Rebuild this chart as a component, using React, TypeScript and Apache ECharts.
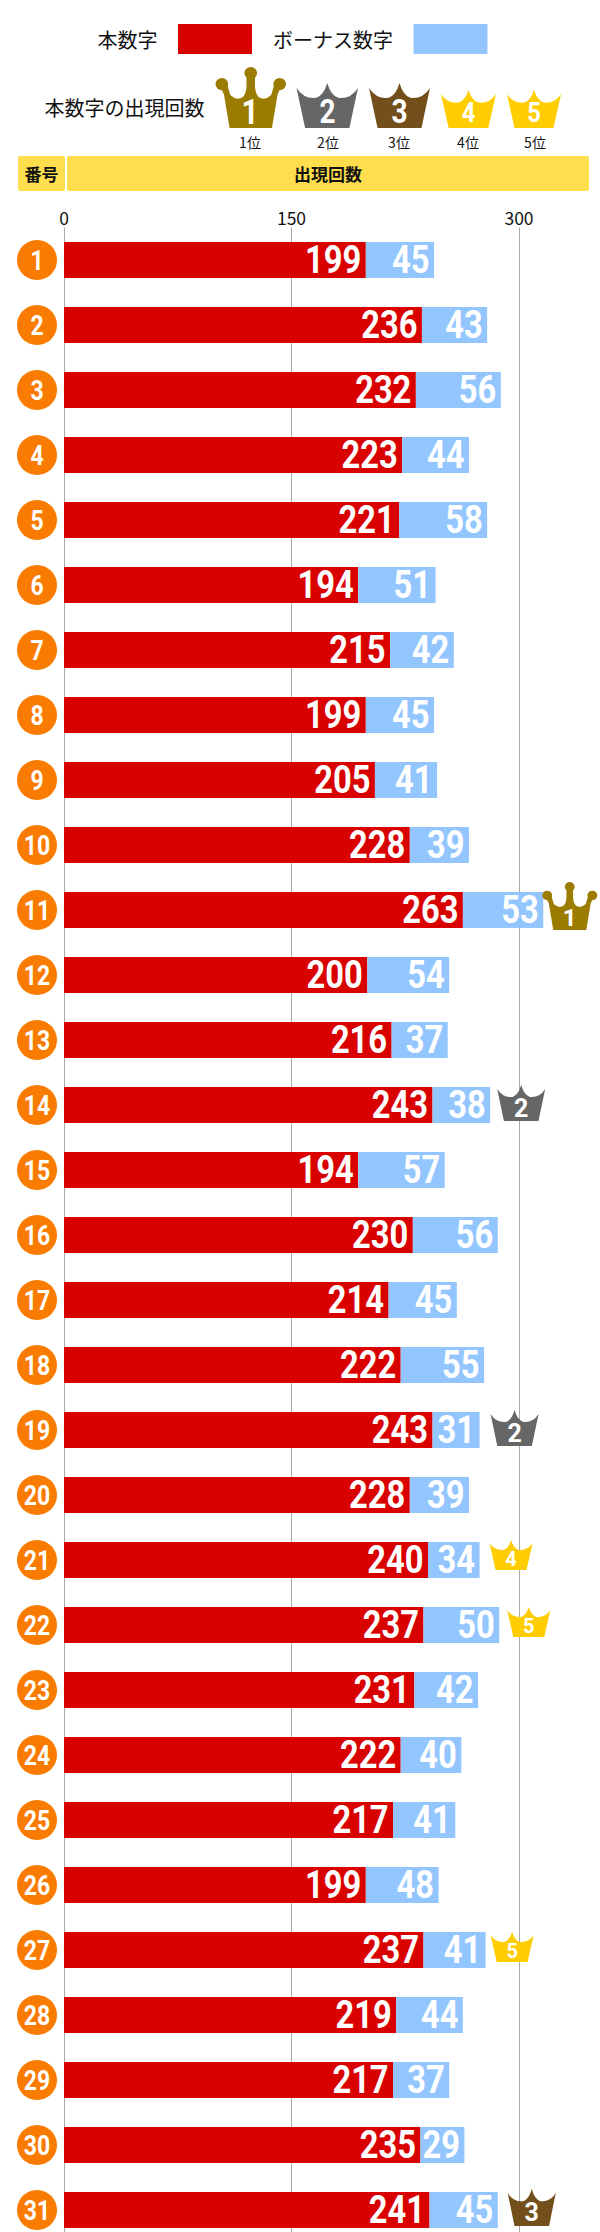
import React, { useEffect, useRef } from "react";
import * as echarts from "echarts";

const rows = Array.from({ length: 31 }, (_, i) => String(i + 1));
const mainValues = [199,236,232,223,221,194,215,199,205,228,263,200,216,243,194,230,214,222,243,228,240,237,231,222,217,199,237,219,217,235,241];
const bonusValues = [45,43,56,44,58,51,42,45,41,39,53,54,37,38,57,56,45,55,31,39,34,50,42,40,41,48,41,44,37,29,45];
const xTicks = [0, 150, 300];
const rankedRows = [
  { row: 11, rank: 1, gap: -1 },
  { row: 14, rank: 2, gap: 7 },
  { row: 19, rank: 2, gap: 11 },
  { row: 31, rank: 3, gap: 10 },
  { row: 21, rank: 4, gap: 10 },
  { row: 22, rank: 5, gap: 8 },
  { row: 27, rank: 5, gap: 5 },
];

const RED = "#D90000";
const BLUE = "#93C6FF";
const JP = '"Noto Sans CJK JP"';
const DIGIT = "Roboto";

const crownPlain = "M0 11 Q12 36 32 33 Q44 28 50 0 Q56 28 68 33 Q88 36 100 11 L86 100 L14 100 Z";
const ball = (x: number, y: number) => `M${x - 9} ${y} A9 10 0 1 0 ${x + 9} ${y} A9 10 0 1 0 ${x - 9} ${y} Z`;
const crownBalls =
  "M20 100 L80 100 L88 45 L94 30 L83 30 L79 46 Q70 56 61 49 Q56 42 56 30 L56 12 L44 12 L44 30 Q44 42 39 49 Q30 56 21 46 L17 30 L6 30 L12 45 Z " +
  ball(9, 28) + " " + ball(50, 10) + " " + ball(91, 28);

const rankStyle: Record<number, any> = {
  1: { color: "#9B7B00", w: 55, h: 48, dy: -4, labelDy: 12, font: 24, path: crownBalls },
  2: { color: "#666666", w: 48, h: 36, dy: -2, labelDy: 5, font: 25, path: crownPlain },
  3: { color: "#73501B", w: 48, h: 37, dy: -2.5, labelDy: 5, font: 25, path: crownPlain },
  4: { color: "#FFCD00", w: 43, h: 30, dy: -5, labelDy: 4, font: 20, path: crownPlain },
  5: { color: "#FFCD00", w: 43, h: 30, dy: -3, labelDy: 4, font: 20, path: crownPlain },
};

const legendCrowns = [
  { rank: 1, x: 215.5, y: 67, w: 70.5, h: 61, cx: 250, lx: 250, font: 35, path: "crownBallsShape" },
  { rank: 2, x: 296.5, y: 83, w: 61.5, h: 45, cx: 327.5, lx: 328, font: 33, path: "crownPlainShape" },
  { rank: 3, x: 369, y: 83, w: 61, h: 45, cx: 399.5, lx: 399, font: 33, path: "crownPlainShape" },
  { rank: 4, x: 441, y: 90, w: 55, h: 38, cx: 468.5, lx: 468, font: 28, path: "crownPlainShape" },
  { rank: 5, x: 507, y: 90, w: 54, h: 38, cx: 534, lx: 535, font: 28, path: "crownPlainShape" },
];

function register() {
  echarts.graphic.registerShape("crownPlainShape", (echarts.graphic as any).extendPath(crownPlain, {}));
  echarts.graphic.registerShape("crownBallsShape", (echarts.graphic as any).extendPath(crownBalls, {}));
}

export default function App() {
  const ref = useRef<HTMLDivElement>(null);
  useEffect(() => {
    document.body.style.margin = "0";
    register();
    const chart = echarts.init(ref.current!, undefined, { renderer: "svg" });
    const text = (x: number, y: number, t: string, size: number, extra: any = {}) => ({
      type: "text",
      x,
      y,
      z: 20,
      style: { text: t, fill: "#111", font: `${extra.weight || "normal"} ${size}px ${extra.family || JP}`, align: "center", verticalAlign: "middle" },
    });
    const graphic: any[] = [
      text(124.5, 107, "本数字の出現回数", 20),
      { type: "rect", shape: { x: 18, y: 156, width: 47, height: 35, r: 2 }, style: { fill: "#FFDE4D" } },
      { type: "rect", shape: { x: 67, y: 156, width: 522, height: 35, r: 2 }, style: { fill: "#FFDE4D" } },
      text(41.5, 173.5, "番号", 17, { weight: "bold" }),
      text(328, 173.5, "出現回数", 17, { weight: "bold" }),
    ];
    legendCrowns.forEach((c) => {
      graphic.push({
        type: c.path,
        x: c.x,
        y: c.y,
        scaleX: c.w / 100,
        scaleY: c.h / 100,
        style: { fill: rankStyle[c.rank].color },
      });
      graphic.push({
        type: "text",
        x: c.cx,
        y: 112,
        z: 20,
        scaleX: 0.85,
        style: { text: String(c.rank), fill: "#fff", font: `bold ${c.font}px ${DIGIT}`, align: "center", verticalAlign: "middle" },
      });
      graphic.push(text(c.lx, 142, `${c.rank}位`, 14));
    });

    // Value text condensed through scaleX, anchored at the end of each bar segment.
    const valueLabel = (params: any, api: any) => {
      const p = api.coord([api.value(0), api.value(1)]);
      return {
        type: "text",
        x: p[0] - 4.5,
        y: p[1],
        scaleX: 0.86,
        style: {
          text: String(api.value(2)),
          fill: "#fff",
          font: `bold 38px ${DIGIT}`,
          align: "right",
          verticalAlign: "middle",
        },
      };
    };
    const rowBadge = (params: any, api: any) => {
      const p = api.coord([0, api.value(0)]);
      const cx = p[0] - 27;
      return {
        type: "group",
        children: [
          { type: "circle", shape: { cx, cy: p[1], r: 20 }, style: { fill: "#F97B00" } },
          {
            type: "text",
            x: cx,
            y: p[1] + 0.5,
            scaleX: 0.82,
            style: { text: rows[api.value(0)], fill: "#fff", font: `bold 28px ${DIGIT}`, align: "center", verticalAlign: "middle" },
          },
        ],
      };
    };

    chart.setOption({
      animation: false,
      legend: {
        data: ["本数字", "ボーナス数字"],
        left: 92.5,
        top: 19,
        align: "right",
        itemWidth: 74,
        itemHeight: 30,
        itemGap: 21,
        selectedMode: false,
        icon: "rect",
        textStyle: { fontFamily: JP, fontSize: 20, color: "#111", padding: [0, 15.5, 0, 0] },
      },
      graphic,
      grid: { left: 64, top: 227.5, width: 530.83, height: 2015, outerBoundsMode: "none" },
      xAxis: {
        type: "value",
        position: "top",
        min: 0,
        max: 350,
        interval: 150,
        axisLine: { show: false },
        axisTick: { show: false, customValues: xTicks },
        axisLabel: { customValues: xTicks, color: "#111", fontFamily: JP, fontSize: 17.5, margin: 1 },
        splitLine: { show: true, lineStyle: { color: "#AAAAAA", width: 1 } },
      },
      yAxis: {
        type: "category",
        inverse: true,
        data: rows,
        axisLine: { show: false },
        axisTick: { show: false },
        axisLabel: { show: false },
      },
      series: [
        {
          type: "bar",
          name: "本数字",
          stack: "total",
          barWidth: 36,
          itemStyle: { color: RED },
          data: mainValues,
        },
        {
          type: "bar",
          name: "ボーナス数字",
          stack: "total",
          barWidth: 36,
          itemStyle: { color: BLUE },
          data: bonusValues,
        },
        {
          type: "custom",
          name: "番号",
          silent: true,
          z: 4,
          renderItem: rowBadge,
          encode: { y: 0 },
          data: rows.map((_, i) => [i]),
        },
        {
          type: "custom",
          name: "本数字の値",
          silent: true,
          z: 5,
          renderItem: valueLabel,
          encode: { x: 0, y: 1 },
          data: mainValues.map((v, i) => [v, i, v]),
        },
        {
          type: "custom",
          name: "ボーナス数字の値",
          silent: true,
          z: 5,
          renderItem: valueLabel,
          encode: { x: 0, y: 1 },
          data: bonusValues.map((v, i) => [mainValues[i] + v, i, v]),
        },
        {
          type: "scatter",
          name: "順位",
          silent: true,
          clip: false,
          z: 6,
          data: rankedRows.map((m) => {
            const s = rankStyle[m.rank];
            const i = m.row - 1;
            return {
              value: [mainValues[i] + bonusValues[i], String(m.row)],
              symbol: "path://" + s.path,
              symbolKeepAspect: false,
              symbolSize: [s.w, s.h],
              symbolOffset: [m.gap + s.w / 2, s.dy],
              itemStyle: { color: s.color, opacity: 1 },
              label: {
                show: true,
                position: "inside",
                formatter: String(m.rank),
                offset: [0, s.labelDy],
                color: "#fff",
                fontFamily: DIGIT,
                fontWeight: "bold",
                fontSize: s.font,
              },
            };
          }),
        },
      ],
    });
    return () => chart.dispose();
  }, []);
  return <div ref={ref} style={{ width: 600, height: 2232, position: "absolute", left: 0, top: 0 }} />;
}
